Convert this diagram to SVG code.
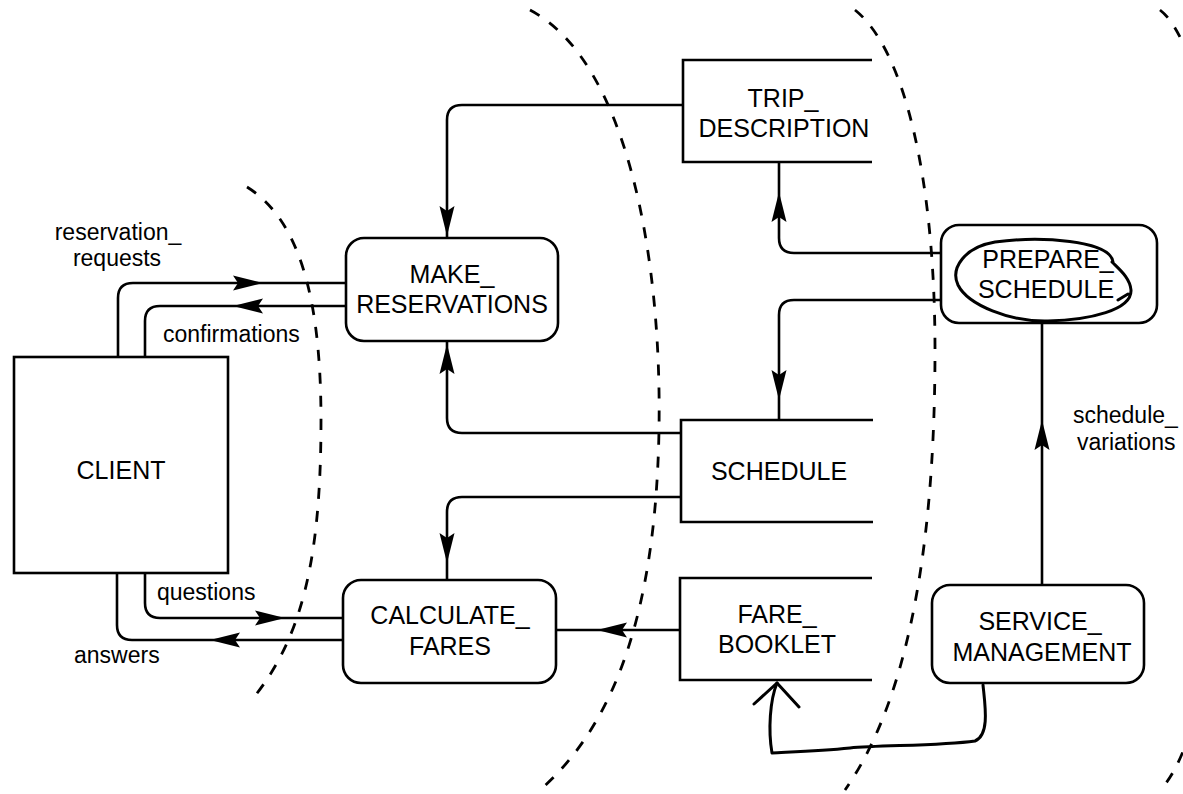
<svg xmlns="http://www.w3.org/2000/svg" xmlns:xlink="http://www.w3.org/1999/xlink" width="1183" height="794" viewBox="0 0 1183 794">
  <style>
    .box { fill: #fff; stroke: #000; stroke-width: 2.6; }
    .store { fill: none; stroke: #000; stroke-width: 2.6; }
    .flow { fill: none; stroke: #000; stroke-width: 2.6; }
    .hand { fill: none; stroke: #000; stroke-width: 3; stroke-linecap: round; stroke-linejoin: round; }
    .bound { fill: none; stroke: #000; stroke-width: 2.8; stroke-dasharray: 11 12; }
    .lbl { font-family: "Liberation Sans", Arial, sans-serif; font-size: 25px; fill: #000; text-anchor: middle; }
    .flbl { font-family: "Liberation Sans", Arial, sans-serif; font-size: 23px; fill: #000; }
  </style>
  <defs>
    <path id="ah" d="M0,0 L-30,-7.5 L-25,0 L-30,7.5 Z" fill="#000"/>
  </defs>
  <rect width="1183" height="794" fill="#fff"/>

  <!-- dashed boundaries -->
  <g id="boundaries">
    <path class="bound" d="M247,187 C300,220 321,300 321,420 C321,560 302,640 250,702"/>
    <path class="bound" d="M530,10 C625,60 662,250 659,430 C656,600 620,720 540,790"/>
    <path class="bound" d="M855,10 C905,50 935,180 935,350 C935,520 915,690 845,790"/>
    <path class="bound" d="M1160,10 C1250,80 1250,700 1160,790"/>
  </g>

  <!-- connectors -->
  <g id="connectors">
    <!-- reservation_requests -->
    <path class="flow" d="M118,357 V298 Q118,283 133,283 H346"/>
    <use xlink:href="#ah" transform="translate(263,283)"/>
    <!-- confirmations -->
    <path class="flow" d="M346,306 H160 Q145,306 145,321 V357"/>
    <use xlink:href="#ah" transform="translate(233,306) rotate(180)"/>
    <!-- questions -->
    <path class="flow" d="M145,573 V603 Q145,618 160,618 H343"/>
    <use xlink:href="#ah" transform="translate(285,618)"/>
    <!-- answers -->
    <path class="flow" d="M343,640 H132 Q117,640 117,625 V573"/>
    <use xlink:href="#ah" transform="translate(210,640) rotate(180)"/>
    <!-- trip description to make reservations -->
    <path class="flow" d="M683,105 H462 Q447,105 447,120 V238"/>
    <use xlink:href="#ah" transform="translate(447,236) rotate(90)"/>
    <!-- schedule to make reservations -->
    <path class="flow" d="M681,433 H462 Q447,433 447,418 V341"/>
    <use xlink:href="#ah" transform="translate(447,344) rotate(-90)"/>
    <!-- schedule to calculate fares -->
    <path class="flow" d="M681,497 H462 Q447,497 447,512 V580"/>
    <use xlink:href="#ah" transform="translate(447,563) rotate(90)"/>
    <!-- fare booklet to calculate fares -->
    <path class="flow" d="M680,630 H556"/>
    <use xlink:href="#ah" transform="translate(597,630) rotate(180)"/>
    <!-- prepare schedule to trip description -->
    <path class="flow" d="M941,253 H794 Q779,253 779,238 V162"/>
    <use xlink:href="#ah" transform="translate(779,192) rotate(-90)"/>
    <!-- prepare schedule to schedule -->
    <path class="flow" d="M941,300 H794 Q779,300 779,315 V420"/>
    <use xlink:href="#ah" transform="translate(779,400) rotate(90)"/>
    <!-- schedule_variations -->
    <path class="flow" d="M1042,585 V323"/>
    <use xlink:href="#ah" transform="translate(1042,420) rotate(-90)"/>
    <!-- hand-drawn link from service management to fare booklet -->
    <path class="hand" d="M983,685 C985,705 990,735 975,741 C940,746 880,745 850,748 C820,751 790,752 772,753 C768,730 770,700 777,683"/>
    <path class="hand" d="M754,704 L777,683 L799,707"/>
  </g>

  <!-- labels on flows -->
  <g id="flow-labels">
    <text class="flbl" x="118" y="240" text-anchor="middle">reservation_</text>
    <text class="flbl" x="117" y="266" text-anchor="middle">requests</text>
    <text class="flbl" x="163" y="342">confirmations</text>
    <text class="flbl" x="157" y="600">questions</text>
    <text class="flbl" x="74" y="663">answers</text>
    <text class="flbl" x="1073" y="423">schedule_</text>
    <text class="flbl" x="1077" y="450">variations</text>
  </g>

  <g id="client">
    <rect class="box" x="14" y="357" width="214" height="216"/>
    <text class="lbl" x="121" y="479">CLIENT</text>
  </g>

  <g id="make-reservations">
    <rect class="box" x="346" y="238" width="212" height="103" rx="18"/>
    <text class="lbl" x="452" y="283">MAKE_</text>
    <text class="lbl" x="452" y="313">RESERVATIONS</text>
  </g>

  <g id="calculate-fares">
    <rect class="box" x="343" y="580" width="213" height="103" rx="18"/>
    <text class="lbl" x="450" y="624">CALCULATE_</text>
    <text class="lbl" x="450" y="655">FARES</text>
  </g>

  <g id="trip-description">
    <path class="store" d="M872,60 H683 V162 H872"/>
    <text class="lbl" x="783" y="107">TRIP_</text>
    <text class="lbl" x="784" y="137">DESCRIPTION</text>
  </g>

  <g id="schedule">
    <path class="store" d="M873,420 H681 V522 H873"/>
    <text class="lbl" x="779" y="480">SCHEDULE</text>
  </g>

  <g id="fare-booklet">
    <path class="store" d="M872,578 H680 V680 H872"/>
    <text class="lbl" x="777" y="623">FARE_</text>
    <text class="lbl" x="777" y="653">BOOKLET</text>
  </g>

  <g id="prepare-schedule">
    <rect class="box" x="941" y="225" width="216" height="98" rx="18"/>
    <text class="lbl" x="1048" y="268">PREPARE_</text>
    <text class="lbl" x="1046" y="298">SCHEDULE</text>
    <path class="hand" stroke-width="2.4" d="M1113,262 C1110,240 1040,236 995,242 C965,247 950,268 958,285 C968,305 1010,322 1048,321 C1090,320 1132,310 1131,290 C1130,278 1120,270 1112,262 M1118,300 L1128,294"/>
  </g>

  <g id="service-management">
    <rect class="box" x="932" y="585" width="212" height="98" rx="18"/>
    <text class="lbl" x="1040" y="630">SERVICE_</text>
    <text class="lbl" x="1042" y="661">MANAGEMENT</text>
  </g>
</svg>
